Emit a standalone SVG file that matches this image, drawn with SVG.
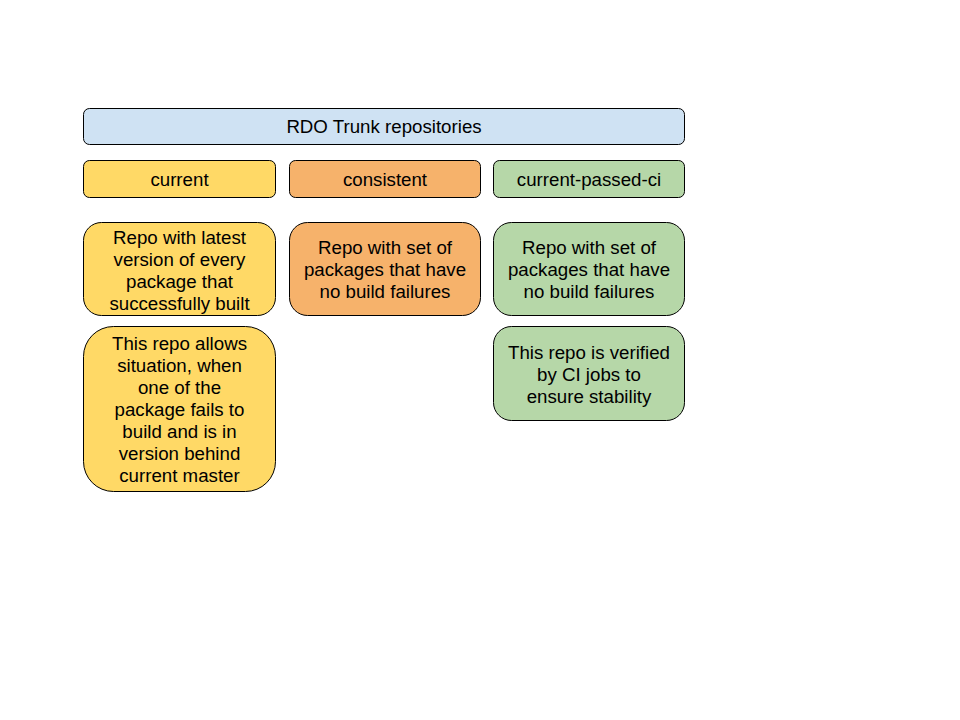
<svg xmlns="http://www.w3.org/2000/svg" width="960" height="720" viewBox="0 0 960 720">
<style>
rect{stroke:#000;stroke-width:1}
text{font-family:"Liberation Sans",Arial,sans-serif;font-size:18.7px;fill:#000;text-anchor:middle}
.b{fill:#cfe2f3}.y{fill:#ffd966}.o{fill:#f6b26b}.g{fill:#b6d7a8}
</style>
<rect x="0" y="0" width="960" height="720" fill="#fff" style="stroke:none"/>
<g id="title"><rect class="b" x="83.5" y="108.5" width="601" height="36" rx="6"/><text x="384" y="133">RDO Trunk repositories</text></g>
<g id="current"><rect class="y" x="83.5" y="160.5" width="192" height="37" rx="6"/><text x="179.5" y="186">current</text></g>
<g id="consistent"><rect class="o" x="289.5" y="160.5" width="191" height="37" rx="6"/><text x="385" y="186">consistent</text></g>
<g id="cpci"><rect class="g" x="493.5" y="160.5" width="191" height="37" rx="6"/><text x="589" y="186">current-passed-ci</text></g>
<g id="current-desc"><rect class="y" x="83.5" y="222.5" width="192" height="93" rx="18"/>
<text x="179.5" y="244">Repo with latest</text><text x="179.5" y="266">version of every</text><text x="179.5" y="288">package that</text><text x="179.5" y="310">successfully built</text></g>
<g id="consistent-desc"><rect class="o" x="289.5" y="222.5" width="191" height="93" rx="18"/>
<text x="385" y="254">Repo with set of</text><text x="385" y="276">packages that have</text><text x="385" y="298">no build failures</text></g>
<g id="cpci-desc"><rect class="g" x="493.5" y="222.5" width="191" height="93" rx="18"/>
<text x="589" y="254">Repo with set of</text><text x="589" y="276">packages that have</text><text x="589" y="298">no build failures</text></g>
<g id="current-note"><rect class="y" x="83.5" y="326.5" width="192" height="165" rx="30"/>
<text x="179.5" y="350">This repo allows</text><text x="179.5" y="372">situation, when</text><text x="179.5" y="394">one of the</text><text x="179.5" y="416">package fails to</text><text x="179.5" y="438">build and is in</text><text x="179.5" y="460">version behind</text><text x="179.5" y="482">current master</text></g>
<g id="cpci-note"><rect class="g" x="493.5" y="326.5" width="191" height="94" rx="18"/>
<text x="589" y="359">This repo is verified</text><text x="589" y="381">by CI jobs to</text><text x="589" y="403">ensure stability</text></g>
<g id="connectors"></g>
</svg>
